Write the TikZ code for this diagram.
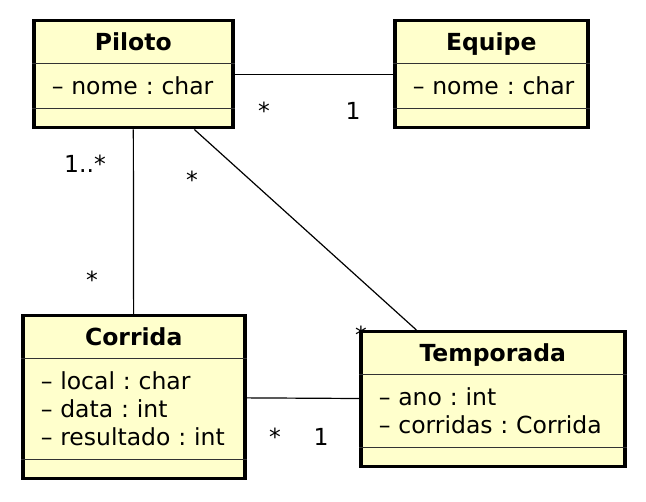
\documentclass[tikz,border=0pt]{standalone}
\usepackage{fontspec}
\setmainfont{DejaVu Sans}
\usetikzlibrary{shapes.multipart}
\definecolor{classfill}{RGB}{255,255,204}
\newcommand{\ttlstrut}{\rule[-11pt]{0pt}{39.5pt}}
\newcommand{\topstrut}{\rule{0pt}{29.5pt}}
\newcommand{\botstrut}{\rule[-12pt]{0pt}{12pt}}
\newcommand{\emptystrut}{\rule{0pt}{15.5pt}}

\begin{document}
\begin{tikzpicture}[x=1pt,y=-1pt,
  font=\fontsize{23.5}{28}\selectfont\frenchspacing,
  class/.style={rectangle split, rectangle split parts=3,
    rectangle split draw splits=false, draw=black, line width=3.5pt,
    fill=classfill, inner xsep=18pt, inner ysep=0pt,
    anchor=north west, align=left},
  split/.style={line width=1.4pt, draw=black!80},
  assoc/.style={line width=1.2pt},
  mult/.style={inner sep=0pt, anchor=base}]
\useasboundingbox (0,0) rectangle (646,502);
\node [mult] (tstarhid) at (361,343.5) {*};
\node [class, text width=163pt] (piloto) at (32,19)
  {\hspace*{\fill}\textbf{Piloto}\hspace*{\fill}\ttlstrut\nodepart{two}\mbox{– nome : char}\topstrut\botstrut\nodepart{three}\emptystrut};
\node [class, text width=157pt] (equipe) at (393,19)
  {\hspace*{\fill}\textbf{Equipe}\hspace*{\fill}\ttlstrut\nodepart{two}\mbox{– nome : char}\topstrut\botstrut\nodepart{three}\emptystrut};
\node [class, text width=186pt] (corrida) at (21,314)
  {\hspace*{\fill}\textbf{Corrida}\hspace*{\fill}\ttlstrut\nodepart{two}\mbox{– local : char}\topstrut\\\mbox{– data : int}\\\mbox{– resultado : int}\botstrut\nodepart{three}\emptystrut};
\node [class, text width=228pt] (temporada) at (359,330)
  {\hspace*{\fill}\textbf{Temporada}\hspace*{\fill}\ttlstrut\nodepart{two}\mbox{– ano : int}\topstrut\\\mbox{– corridas : Corrida}\botstrut\nodepart{three}\emptystrut};
\foreach \c in {piloto,equipe,corrida,temporada} {
  \draw [split] (\c.one split west) -- (\c.one split east);
  \draw [split] (\c.two split west) -- (\c.two split east);
}
\draw [assoc] (piloto) -- (equipe);
\draw [assoc] (piloto) -- (corrida);
\draw [assoc] (piloto) -- (temporada);
\draw [assoc] (corrida) -- (temporada);
\node [mult] (pestar) at (264,120) {*};
\node [mult] (epone) at (353,120) {1};
\node [mult] (pcmany) at (85,173) {1..*};
\node [mult] (cpstar) at (92,289) {*};
\node [mult] (ptstar) at (192,189) {*};
\node [mult] (ctstar) at (275,446) {*};
\node [mult] (tcone) at (321,446) {1};
\end{tikzpicture}
\end{document}
